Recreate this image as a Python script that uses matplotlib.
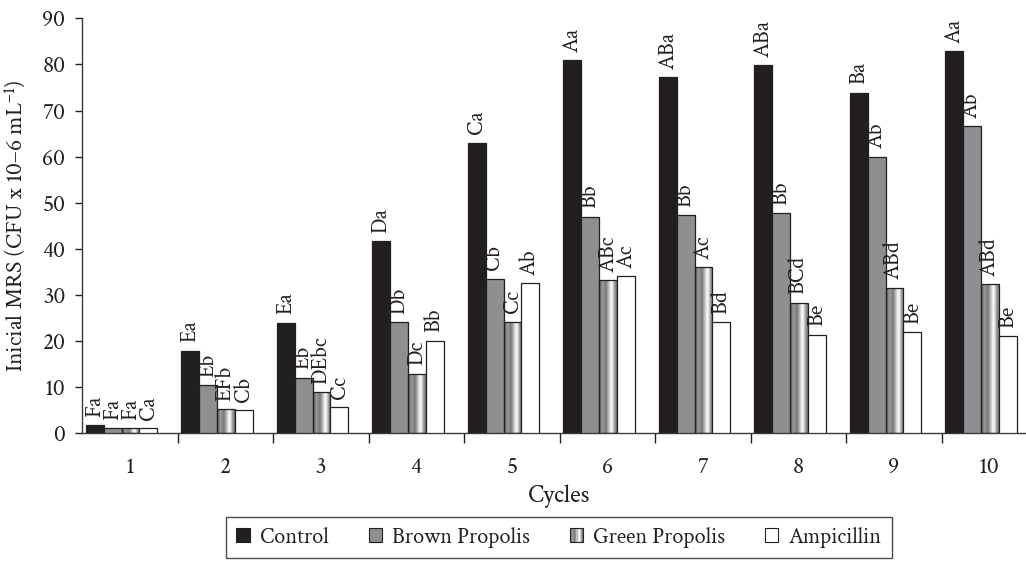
import numpy as np
import matplotlib
matplotlib.use("Agg")
import matplotlib.pyplot as plt
import matplotlib.transforms as mtransforms
from matplotlib.patches import Rectangle
from matplotlib.legend_handler import HandlerBase
from matplotlib.ticker import FixedLocator, NullFormatter
from matplotlib import font_manager

# ---- data -------------------------------------------------------------
cycles = [1, 2, 3, 4, 5, 6, 7, 8, 9, 10]
series_names = ["Control", "Brown Propolis", "Green Propolis", "Ampicillin"]

control = [1.8, 17.9, 24.0, 41.7, 63.0, 80.9, 77.2, 79.9, 73.9, 82.9]
brown_propolis = [1.1, 10.5, 12.1, 24.1, 33.5, 47.0, 47.3, 47.7, 60.0, 66.6]
green_propolis = [1.1, 5.3, 8.9, 12.9, 24.2, 33.2, 36.0, 28.3, 31.6, 32.4]
ampicillin = [1.1, 5.0, 5.6, 20.1, 32.5, 34.1, 24.1, 21.4, 22.0, 21.0]

control_letters = ["Fa", "Ea", "Ea", "Da", "Ca", "Aa", "ABa", "ABa", "Ba", "Aa"]
brown_letters = ["Fa", "Eb", "Eb", "Db", "Cb", "Bb", "Bb", "Bb", "Ab", "Ab"]
green_letters = ["Fa", "EFb", "DEbc", "Dc", "Cc", "ABc", "Ac", "BCd", "ABd", "ABd"]
ampicillin_letters = ["Ca", "Cb", "Cc", "Bb", "Ab", "Ac", "Bd", "Be", "Be", "Be"]

y_ticks = [0, 10, 20, 30, 40, 50, 60, 70, 80, 90]

# ---- style ------------------------------------------------------------
INK = "#231f20"
BROWN = "#8e8f92"
STRIPES = [0.42, 0.52, 0.60, 0.55, 0.48, 0.58, 0.74, 0.90, 0.98, 0.82, 0.60, 0.50]
SERIF = ["Crimson Text", "Liberation Serif", "DejaVu Serif"]

plt.rcParams["font.family"] = SERIF
plt.rcParams["mathtext.fontset"] = "custom"
plt.rcParams["mathtext.rm"] = "Crimson Text"
plt.rcParams["mathtext.it"] = "Crimson Text:italic"

serif_file = font_manager.findfont(font_manager.FontProperties(family="Crimson Text"))

fig = plt.figure(figsize=(10.26, 5.64), dpi=100)
left_px, bottom_px, top_px = 82, 433.3, 18.3
W, H = 1026, 564
ax = fig.add_axes([left_px / W, 1 - bottom_px / H,
                   1 - left_px / W, (bottom_px - top_px) / H])

bar_w = 0.187
x = np.array(cycles, dtype=float)
series = [control, brown_propolis, green_propolis, ampicillin]
letters = [control_letters, brown_letters, green_letters, ampicillin_letters]
faces = [INK, BROWN, None, "white"]

stripe_img = np.array(STRIPES)[None, :]

for i, (vals, labs, fc) in enumerate(zip(series, letters, faces)):
    lefts = x - 0.46 + i * bar_w
    if fc is None:
        bars = ax.bar(lefts, vals, width=bar_w, align="edge",
                      facecolor="none", edgecolor=INK, linewidth=0.9, zorder=3)
        for b in bars:
            bx, by = b.get_x(), b.get_y()
            im = ax.imshow(stripe_img, cmap="gray", vmin=0, vmax=1,
                           extent=[bx, bx + b.get_width(), by, by + b.get_height()],
                           aspect="auto", interpolation="bilinear", zorder=2)
            im.set_clip_path(b)
    else:
        bars = ax.bar(lefts, vals, width=bar_w, align="edge",
                      facecolor=fc, edgecolor=INK, linewidth=0.9, zorder=3)
    for b, v, t in zip(bars, vals, labs):
        ax.annotate(t, (b.get_x() + b.get_width() / 2, v), xytext=(0, 6),
                    textcoords="offset points", rotation=90, family=SERIF,
                    ha="center", va="bottom", fontsize=16, color=INK)

ax.set_xlim(0.5, 0.5 + (W - left_px) / 95.5)
ax.set_ylim(0, 90)
ax.set_yticks(y_ticks)

ax.set_xticks(cycles)
ax.set_xticklabels([str(c) for c in cycles], family=SERIF)
ax.set_yticklabels([str(v) for v in y_ticks], family=SERIF)
ax.xaxis.set_minor_locator(FixedLocator([c + 0.5 for c in cycles]))
ax.xaxis.set_minor_formatter(NullFormatter())
ax.tick_params(axis="x", which="major", length=0, pad=17, labelsize=17, colors=INK)
ax.tick_params(axis="x", which="minor", length=7, width=1, colors=INK, direction="out")
ax.tick_params(axis="y", length=5, width=1, pad=7, labelsize=17, colors=INK, direction="out")

for s in ["top", "right"]:
    ax.spines[s].set_visible(False)
for s in ["left", "bottom"]:
    ax.spines[s].set_color("#3a3a3a")
    ax.spines[s].set_linewidth(1)

ax.set_ylabel(r"Inicial MRS (CFU x 10–6 mL$^{-1}$)", family=SERIF,
              fontsize=17, color=INK, labelpad=10)
ax.text((5.5 - 0.5) / (ax.get_xlim()[1] - 0.5), 1 - 496 / H, "Cycles",
        transform=mtransforms.blended_transform_factory(ax.transAxes, fig.transFigure),
        ha="center", va="center", fontsize=18, color=INK, family=SERIF)


class StripedHandler(HandlerBase):
    def create_artists(self, legend, orig_handle, xdescent, ydescent,
                       width, height, fontsize, trans):
        n = len(STRIPES)
        arts = []
        for k, g in enumerate(STRIPES):
            arts.append(Rectangle((-xdescent + k * width / n, -ydescent), width / n, height,
                                  facecolor=str(g), edgecolor="none", transform=trans))
        arts.append(Rectangle((-xdescent, -ydescent), width, height, facecolor="none",
                              edgecolor=INK, linewidth=0.8, transform=trans))
        return arts


handles = [Rectangle((0, 0), 1, 1, facecolor=INK, edgecolor=INK, lw=0.8),
           Rectangle((0, 0), 1, 1, facecolor=BROWN, edgecolor=INK, lw=0.8),
           Rectangle((0, 0), 1, 1, facecolor="none", edgecolor=INK, lw=0.8),
           Rectangle((0, 0), 1, 1, facecolor="white", edgecolor=INK, lw=0.8)]
leg = fig.legend(handles, series_names, loc="lower center",
                 bbox_to_anchor=(559 / W, 1.5 / H), ncol=4,
                 prop=font_manager.FontProperties(fname=serif_file, size=16),
                 frameon=True, fancybox=False, edgecolor=INK,
                 handlelength=0.6, handleheight=0.6, handletextpad=0.45,
                 columnspacing=1.8, borderpad=0.45, borderaxespad=0.2,
                 handler_map={handles[2]: StripedHandler()})
leg.get_frame().set_linewidth(1.0)
for t in leg.get_texts():
    t.set_color(INK)

fig.savefig("out.png", dpi=100)
